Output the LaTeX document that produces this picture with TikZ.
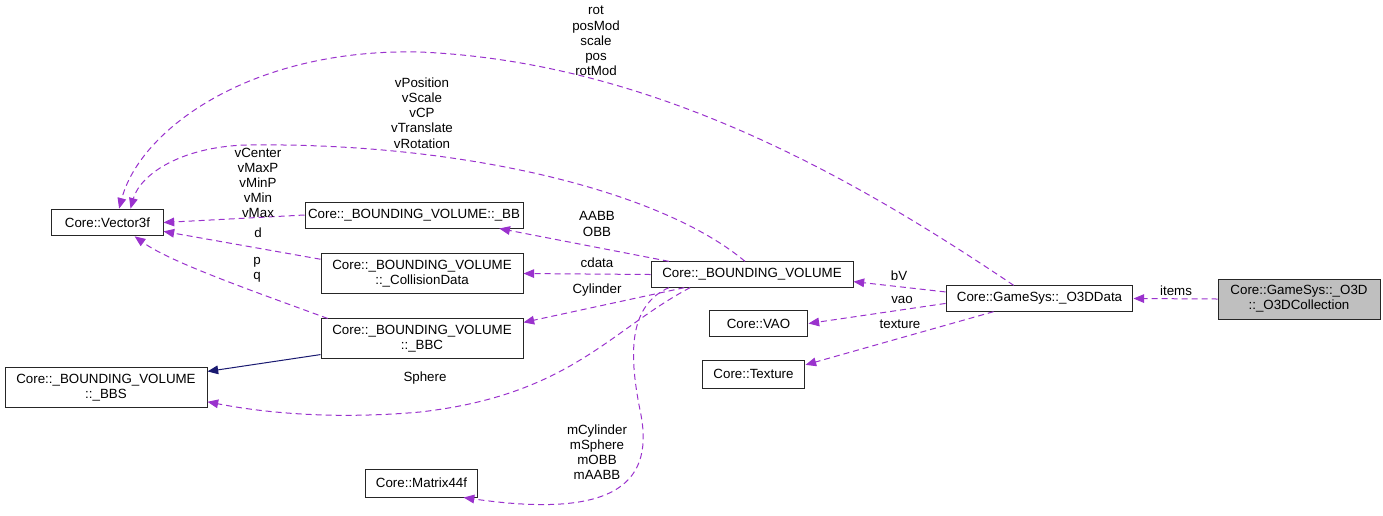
\documentclass[tikz,border=0pt]{standalone}
\usepackage{fontspec}
\setmainfont{Liberation Sans}
\usepackage{xcolor}
\usetikzlibrary{arrows.meta}
\definecolor{usagecol}{HTML}{9A32CD}
\definecolor{inhcol}{HTML}{191970}
\begin{document}
\begin{tikzpicture}[x=0.75pt, y=-0.75pt, font=\fontsize{10}{11.4}\selectfont,
    cls/.style={draw=black!85, line width=0.75pt, fill=white, inner sep=0pt, align=center},
    lbl/.style={align=center, inner sep=0pt},
    usage/.style={usagecol, line width=0.75pt, dash pattern=on 4.5pt off 3pt,
                  -{Triangle[length=8pt,width=6.5pt]}},
    inherit/.style={inhcol, line width=0.75pt, -{Triangle[length=8pt,width=6.5pt]}}]
  \useasboundingbox (0,0) rectangle (1383,515);
  \node[cls, minimum width=83.3pt, minimum height=20pt] (vec) at (107.5,222.5) {Core::Vector3f};
  \node[cls, minimum width=163.5pt, minimum height=19.5pt] (bb) at (414,215) {Core::\_BOUNDING\_VOLUME::\_BB};
  \node[cls, minimum width=151.5pt, minimum height=29.3pt] (cdat) at (422,273.5) {Core::\_BOUNDING\_VOLUME\\::\_CollisionData};
  \node[cls, minimum width=151.5pt, minimum height=29.3pt] (bbc) at (422,338.5) {Core::\_BOUNDING\_VOLUME\\::\_BBC};
  \node[cls, minimum width=151.5pt, minimum height=30.7pt] (bbs) at (106,387.5) {Core::\_BOUNDING\_VOLUME\\::\_BBS};
  \node[cls, minimum width=84.7pt, minimum height=21pt] (mat) at (421.5,483) {Core::Matrix44f};
  \node[cls, minimum width=151.5pt, minimum height=19pt] (bv) at (752,274.5) {Core::\_BOUNDING\_VOLUME};
  \node[cls, minimum width=74.2pt, minimum height=20.2pt] (vao) at (758.5,323.5) {Core::VAO};
  \node[cls, minimum width=77.2pt, minimum height=21pt] (tex) at (753.5,374) {Core::Texture};
  \node[cls, minimum width=140.2pt, minimum height=19pt] (odata) at (1039.5,298.5) {Core::GameSys::\_O3DData};
  \node[cls, fill=black!25, minimum width=121.5pt, minimum height=30pt] (ocoll) at (1299,299) {Core::GameSys::\_O3D\\::\_O3DCollection};

  \draw[usage] (odata.153) .. controls (850,175) and (650,62) .. (420,52)
                 .. controls (250,48) and (140,130) .. (vec.50);
  \draw[usage] (bv.118) .. controls (660,190) and (460,142) .. (246,145)
                 .. controls (180,147) and (140,175) .. (vec.31);
  \draw[usage] (bb.west) -- (vec.east);
  \draw[usage] (cdat.172) -- (vec.-9);
  \draw[usage] (bbc.168) .. controls (250,290) and (170,262) .. (vec.-27);
  \draw[usage] (bv.171) -- (bb.-9);
  \draw[usage] (bv.west) -- (cdat.east);
  \draw[usage] (bv.191) -- (bbc.9);
  \draw[usage] (bv.192) .. controls (610,330) and (570,395) .. (420,412)
                 .. controls (330,420) and (260,412) .. (bbs.-8);
  \draw[usage] (bv.189) .. controls (630,305) and (628,350) .. (640,410)
                 .. controls (655,480) and (620,520) .. (mat.-19);
  \draw[usage] (odata.176) -- (bv.-4);
  \draw[usage] (odata.183) -- (vao.east);
  \draw[usage] (odata.196) -- (tex.10);
  \draw[usage] (ocoll.west) -- (odata.east);
  \draw[inherit] (bbc.189) -- (bbs.9);

  \node[lbl] (lrot) at (596,41) {rot\\posMod\\scale\\pos\\rotMod};
  \node[lbl] (lvpos) at (422,113) {vPosition\\vScale\\vCP\\vTranslate\\vRotation};
  \node[lbl] (lvcen) at (258,183) {vCenter\\vMaxP\\vMinP\\vMin\\vMax};
  \node[lbl] (ld) at (258,233) {d};
  \node[lbl] (lpq) at (257,270) {p\\q};
  \node[lbl] (laabb) at (597,224) {AABB\\OBB};
  \node[lbl] (lcdata) at (597,263) {cdata};
  \node[lbl] (lcyl) at (597,290) {Cylinder};
  \node[lbl] (lsph) at (425,378) {Sphere};
  \node[lbl] (lmat) at (597,452) {mCylinder\\mSphere\\mOBB\\mAABB};
  \node[lbl] (lbv) at (899,276) {bV};
  \node[lbl] (lvao) at (902,300) {vao};
  \node[lbl] (ltex) at (900,324) {texture};
  \node[lbl] (litems) at (1176,291) {items};
\end{tikzpicture}
\end{document}
